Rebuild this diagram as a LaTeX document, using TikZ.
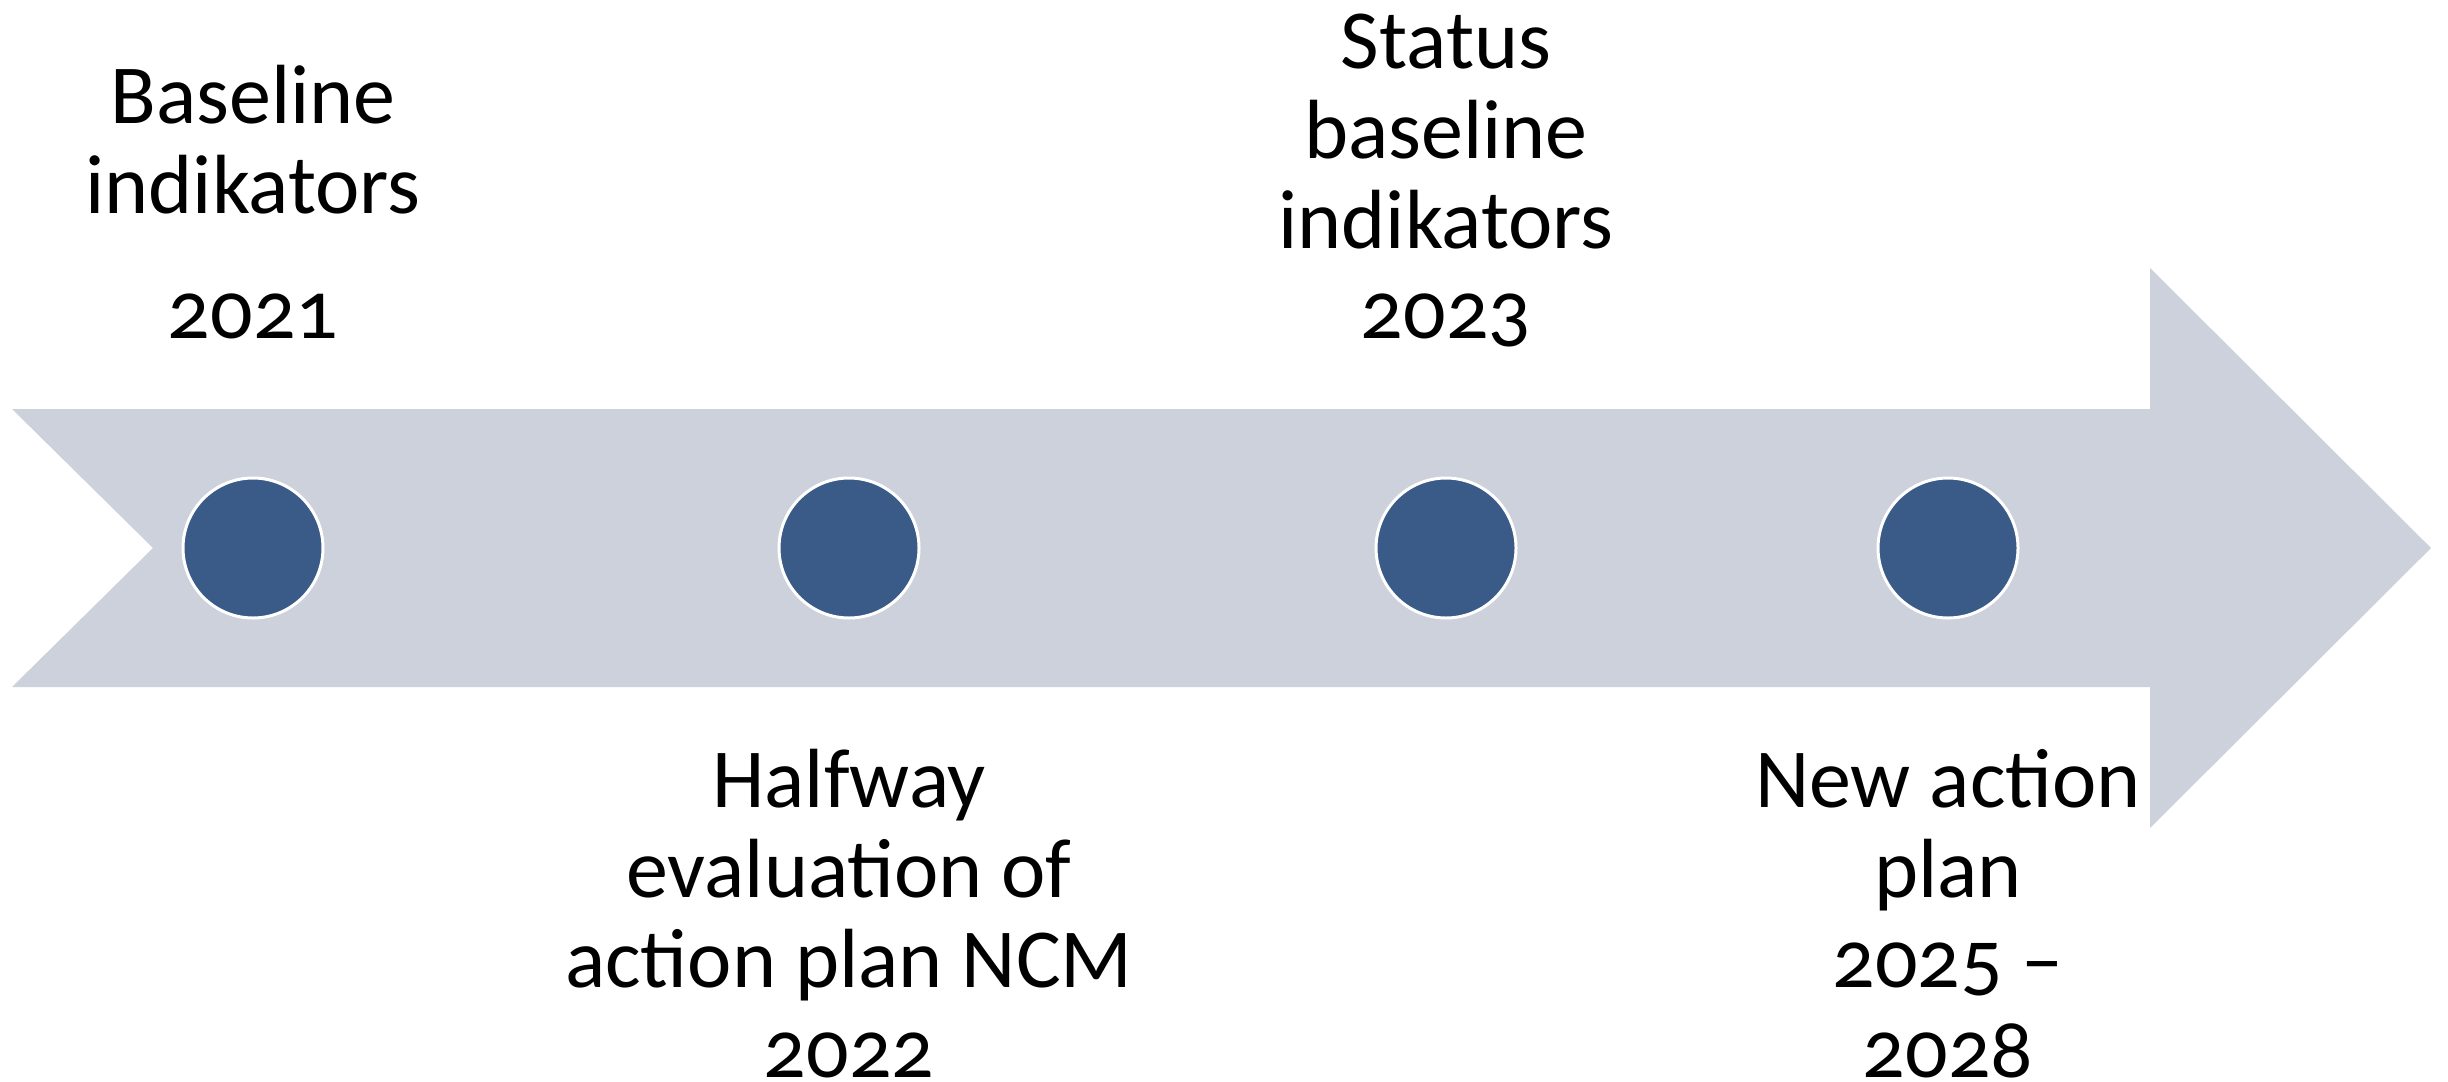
\documentclass[tikz,border=0pt]{standalone}
\usepackage{fontspec}
\setmainfont[Numbers=OldStyle]{Carlito}
\definecolor{arrowgray}{RGB}{205,209,219}
\definecolor{dotblue}{RGB}{58,90,135}
\begin{document}
\begin{tikzpicture}[x=1pt,y=-1pt,
  dot/.style={circle,fill=dotblue,draw=white,line width=3pt,minimum size=140pt,inner sep=0pt},
  lbl/.style={align=center,font=\fontsize{84}{90}\selectfont,inner sep=0pt,anchor=base}]
\useasboundingbox (0,0) rectangle (2448,1081);
\clip (0,0) rectangle (2448,1081);
\fill[arrowgray] (12,409) -- (2150,409) -- (2150,268) -- (2431,548) -- (2150,828) -- (2150,687) -- (12,687) -- (153,548) -- cycle;
\node[dot] (d1) at (253,548) {};
\node[dot] (d2) at (849,548) {};
\node[dot] (d3) at (1446,548) {};
\node[dot] (d4) at (1948,548) {};
\node[lbl] (t1) at (253,338) {Baseline\\indikators\\[35pt]2021};
\node[lbl] (t2) at (1446,338) {Status\\baseline\\indikators\\2023};
\node[lbl] (t3) at (849,1077) {Halfway\\evaluation of\\action plan NCM\\2022};
\node[lbl] (t4) at (1948,1077) {New action\\plan\\2025 –\\2028};
\end{tikzpicture}
\end{document}
